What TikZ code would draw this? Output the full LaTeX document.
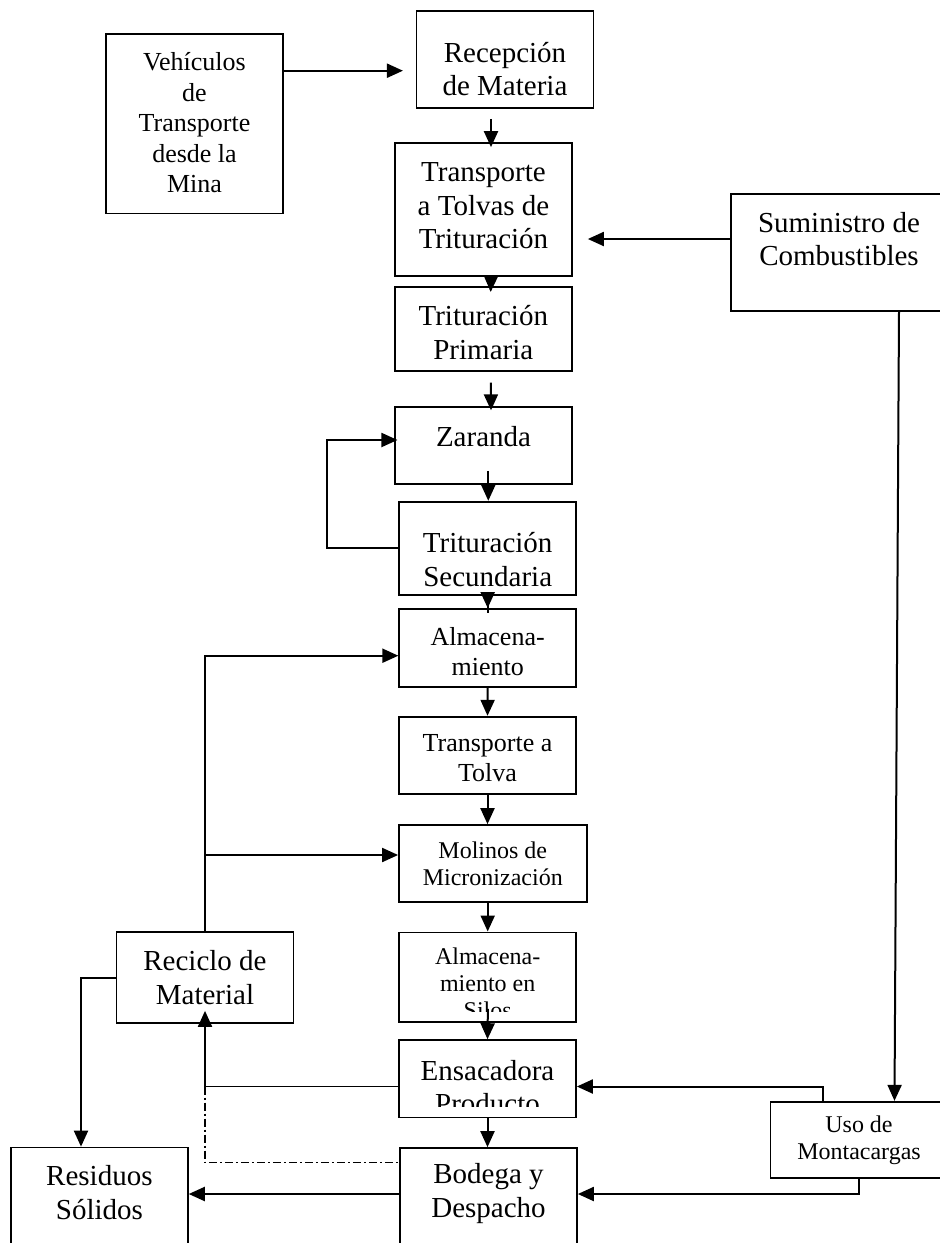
\documentclass[tikz,border=0pt]{standalone}
\usepackage{fontspec}
\setmainfont{Liberation Serif}
\usetikzlibrary{arrows.meta, calc}

\newcommand{\fbig}{\fontsize{29pt}{33.5pt}\selectfont}
\newcommand{\fmid}{\fontsize{26pt}{30.5pt}\selectfont}
\newcommand{\fsml}{\fontsize{24pt}{27pt}\selectfont}

\tikzset{
  blk/.style={draw, line width=1.7pt, inner sep=0pt},
  blktxt/.style n args={3}{path picture={%
      \node[align=center, font=#1, inner sep=0pt] at ([yshift=#2]path picture bounding box.center) {#3};}},
  cuttxt/.style n args={3}{path picture={%
      \clip ([yshift=10.5pt]path picture bounding box.south west) rectangle (path picture bounding box.north east);
      \node[align=center, font=#1, inner sep=0pt] at ([yshift=#2]path picture bounding box.center) {#3};}},
  arr/.style={-{Triangle[length=16pt,width=14pt]}, line width=2pt},
  thinln/.style={line width=1.3pt},
  dashdot/.style={line width=1.3pt, dash pattern=on 8pt off 3pt on 2pt off 3pt},
}

\begin{document}
\begin{tikzpicture}[x=1pt, y=-1pt]
  \useasboundingbox (0,0) rectangle (940,1243);
  \clip (0,0) rectangle (940,1243);

  % main column
  \node[blk, minimum width=177pt, minimum height=179.3pt,
        blktxt={\fmid}{1pt}{Vehículos\\de\\Transporte\\desde la\\Mina}] (veh) at (194.5,123.7) {};
  \node[blk, minimum width=177pt, minimum height=97pt,
        blktxt={\fbig}{-10pt}{Recepción\\de Materia}] (rec) at (505,59.2) {};
  \node[blk, minimum width=177pt, minimum height=132.4pt,
        blktxt={\fbig}{3.5pt}{Transporte\\a Tolvas de\\Trituración}] (ttol) at (483.5,209.5) {};
  \node[blk, minimum width=216pt, minimum height=117pt,
        blktxt={\fbig}{13.3pt}{Suministro de\\Combustibles}] (sum) at (839,252.5) {};
  \node[blk, minimum width=177pt, minimum height=84pt,
        blktxt={\fbig}{-4pt}{Trituración\\Primaria}] (trp) at (483.3,328.7) {};
  \node[blk, minimum width=177pt, minimum height=77.3pt,
        blktxt={\fbig}{8.6pt}{Zaranda}] (zar) at (483.5,445.3) {};
  \node[blk, minimum width=177pt, minimum height=93.3pt,
        blktxt={\fbig}{-11pt}{Trituración\\Secundaria}] (trs) at (487.7,548.3) {};
  \node[blk, minimum width=177pt, minimum height=77.7pt,
        blktxt={\fmid}{-4pt}{Almacena-\\miento}] (alm) at (487.7,647.8) {};
  \node[blk, minimum width=177pt, minimum height=77.3pt,
        blktxt={\fmid}{-2.7pt}{Transporte a\\Tolva}] (tto) at (487.5,755.3) {};
  \node[blk, minimum width=187.7pt, minimum height=77pt,
        blktxt={\fsml}{0pt}{Molinos de\\Micronización}] (mol) at (492.8,863.5) {};
  \node[blk, minimum width=177pt, minimum height=89.7pt,
        cuttxt={\fsml}{-6.5pt}{Almacena-\\miento en\\Silos}] (sil) at (487.7,977.2) {};
  \node[blk, minimum width=177pt, minimum height=90.4pt,
        blktxt={\fbig}{0pt}{Reciclo de\\Material}] (rcl) at (205,977.5) {};
  \node[blk, minimum width=177pt, minimum height=77.3pt,
        cuttxt={\fbig}{-8.3pt}{Ensacadora\\Producto}] (ens) at (487.5,1078.7) {};
  \node[blk, minimum width=177pt, minimum height=102pt,
        blktxt={\fbig}{5.5pt}{Bodega y\\Despacho}] (bod) at (488.5,1199) {};
  \node[blk, minimum width=177pt, minimum height=102pt,
        blktxt={\fbig}{6pt}{Residuos\\Sólidos}] (res) at (99.4,1198.5) {};
  \node[blk, minimum width=177pt, minimum height=76.6pt,
        blktxt={\fsml}{0pt}{Uso de\\Montacargas}] (uso) at (859,1140) {};

  % flow down the column
  \draw[arr, shorten >=12.7pt] ([yshift=53pt]veh.east) -- ([yshift=53pt]veh.east -| rec.west);
  \draw[arr, shorten <=10.3pt, shorten >=-4.7pt] ([xshift=-14pt]rec.south) -- ([xshift=-14pt]rec.south |- ttol.north);
  \draw[arr, shorten <=-13.7pt, shorten >=-6pt] ([xshift=7.5pt]ttol.south) -- ([xshift=7.5pt]trp.north);
  \draw[arr, shorten <=11pt, shorten >=-4.5pt] ([xshift=7.5pt]trp.south) -- ([xshift=7.5pt]zar.north);
  \draw[arr, shorten <=-14pt] ([xshift=4.8pt]zar.south) -- ([xshift=4.8pt]zar.south |- trs.north);
  \draw[arr, shorten <=-17pt] (trs.south) -- (alm.north);
  \draw[arr] (alm.south) -- (tto.north);
  \draw[arr] (tto.south) -- (tto.south |- mol.north);
  \draw[arr] (mol.south -| sil.north) -- (sil.north);
  \draw[arr, shorten <=-14pt] (sil.south) -- (ens.north);
  \draw[arr] (ens.south) -- (ens.south |- bod.north);

  % fuel supply
  \draw[arr, shorten >=15pt] ([yshift=13.5pt]sum.west) -- ([yshift=13.5pt]sum.west -| ttol.east);
  \draw[arr] ([xshift=60pt]sum.south) -- ([xshift=35.5pt]uso.north);

  % loops and recycling
  \draw[arr, shorten >=-3.3pt] (trs.west) -- ++(-71pt,0pt) |- ([yshift=5.3pt]zar.west);
  \draw[arr] (rcl.north) |- ([yshift=-7.9pt]alm.west);
  \draw[arr] ([yshift=8.5pt]mol.west -| rcl.north) -- ([yshift=8.5pt]mol.west);
  \draw[arr] (rcl.west) -| ([xshift=-18.4pt]res.north);
  \coordinate (jn) at ([yshift=-7.8pt]ens.west -| rcl.south);
  \draw[thinln] ([yshift=-7.8pt]ens.west) -- (jn);
  \draw[arr, shorten >=-12.7pt] (jn) -- (rcl.south);
  \draw[dashdot] (jn) |- ([yshift=36.3pt]bod.west);
  \draw[arr] ([yshift=5pt]bod.west) -- ([yshift=5pt]bod.west -| res.east);

  % forklift
  \draw[arr] ([xshift=-35.7pt]uso.north) |- ([yshift=-7.8pt]ens.east);
  \draw[arr] (uso.south) |- ([yshift=5pt]bod.east);
\end{tikzpicture}
\end{document}
